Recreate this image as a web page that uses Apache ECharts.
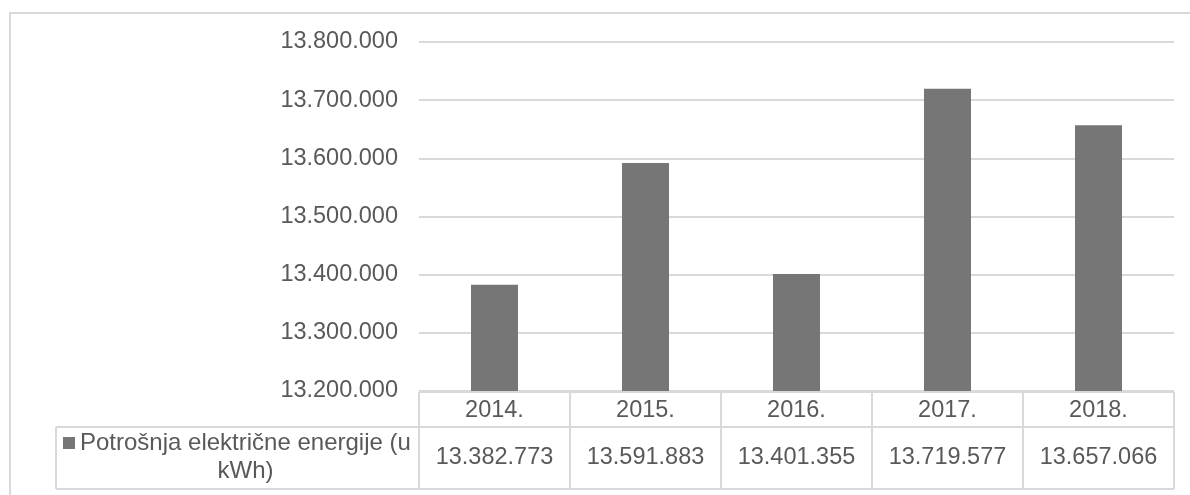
<!DOCTYPE html>
<html>
<head>
<meta charset="utf-8">
<script src="https://cdn.jsdelivr.net/npm/echarts@6/dist/echarts.min.js"></script>
<style>
  html, body { margin: 0; padding: 0; background: #fff; }
  #chart { width: 1190px; height: 495px; }
</style>
</head>
<body>
<div id="chart"></div>
<script>
// podaci
const years = ['2014.', '2015.', '2016.', '2017.', '2018.'];
const potrosnja = [13382773, 13591883, 13401355, 13719577, 13657066];
const legendLine1 = 'Potrošnja električne energije (u';
const legendLine2 = 'kWh)';
const yMin = 13200000;
const yMax = 13800000;
const yStep = 100000;

const FONT = '"Liberation Sans", Arial, sans-serif';
const TXT = '#595959';
const LINE = '#d9d9d9';
const BAR = '#767676';

// 13382773 -> 13.382.773
function fmt(v) {
  return String(v).replace(/\B(?=(\d{3})+(?!\d))/g, '.');
}

const myChart = echarts.init(document.getElementById('chart'));

myChart.setOption({
  backgroundColor: '#ffffff',
  animation: false,
  grid: { left: 419, right: 16, top: 42, bottom: 104 },
  xAxis: {
    type: 'category',
    data: years,
    axisLine: { show: false },
    axisTick: { show: false },
    axisLabel: { show: false },
  },
  yAxis: {
    type: 'value',
    min: yMin,
    max: yMax,
    interval: yStep,
    axisLine: { show: false },
    axisTick: { show: false },
    axisLabel: { margin: 21, fontSize: 23.5, fontFamily: FONT, color: TXT, formatter: fmt },
    splitLine: { lineStyle: { color: LINE, width: 2 } },
  },
  series: [
    {
      type: 'bar',
      name: legendLine1 + ' ' + legendLine2,
      data: potrosnja,
      barWidth: 47,
      itemStyle: { color: BAR },
    },
  ],
});

// tablica s podacima ispod grafa
function drawTable() {
  const c0 = myChart.convertToPixel({ xAxisIndex: 0 }, years[0]);
  const c1 = myChart.convertToPixel({ xAxisIndex: 0 }, years[1]);
  const band = c1 - c0;
  const left = c0 - band / 2;
  const right = left + band * years.length;
  const top = myChart.convertToPixel({ yAxisIndex: 0 }, yMin) + 1;
  const rowH1 = 35;
  const rowH2 = 62;
  const cellLeft = 56;
  const mid = top + rowH1;
  const bottom = mid + rowH2;

  const els = [];
  const line = (x1, y1, x2, y2) => els.push({
    type: 'line',
    shape: { x1, y1, x2, y2 },
    style: { stroke: LINE, lineWidth: 2 },
  });

  // vanjski okvir
  els.push({
    type: 'rect',
    shape: { x: 10, y: 13, width: 1300, height: 600 },
    style: { fill: 'none', stroke: LINE, lineWidth: 2 },
  });

  line(left, top, right, top);
  line(cellLeft, mid, right, mid);
  line(cellLeft, bottom, right, bottom);
  line(cellLeft, mid, cellLeft, bottom);
  for (let i = 0; i <= years.length; i++) {
    const x = left + i * band;
    line(x, top, x, bottom);
  }

  years.forEach((y, i) => {
    const cx = left + (i + 0.5) * band;
    els.push({
      type: 'text',
      style: { x: cx, y: top + rowH1 / 2 + 1, text: y, font: `23.5px ${FONT}`, fill: TXT, align: 'center', verticalAlign: 'middle' },
    });
    els.push({
      type: 'text',
      style: { x: cx, y: mid + rowH2 / 2, text: fmt(potrosnja[i]), font: `23.5px ${FONT}`, fill: TXT, align: 'center', verticalAlign: 'middle' },
    });
  });

  // legenda u tablici
  els.push({
    type: 'rect',
    shape: { x: cellLeft + 7, y: mid + 10, width: 12, height: 12 },
    style: { fill: BAR },
  });
  els.push({
    type: 'text',
    style: { x: cellLeft + 24, y: mid + 16, text: legendLine1, font: `24px ${FONT}`, fill: TXT, align: 'left', verticalAlign: 'middle' },
  });
  els.push({
    type: 'text',
    style: { x: (cellLeft + left) / 2 + 8, y: mid + 44, text: legendLine2, font: `24px ${FONT}`, fill: TXT, align: 'center', verticalAlign: 'middle' },
  });

  myChart.setOption({ graphic: { elements: els } });
}

drawTable();
</script>
</body>
</html>
